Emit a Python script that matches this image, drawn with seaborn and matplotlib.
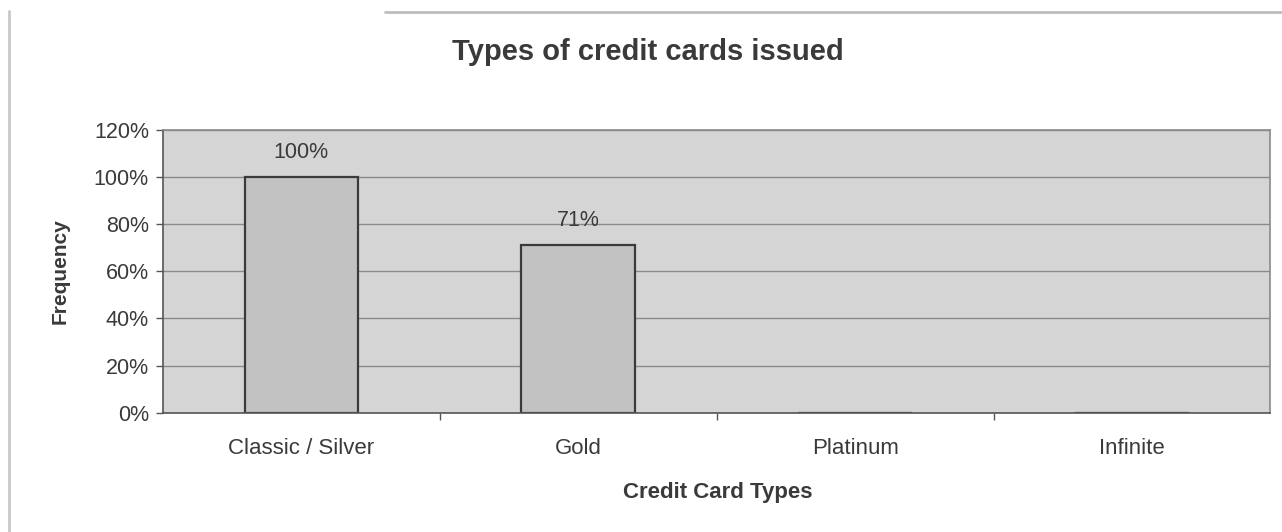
import matplotlib
matplotlib.use("Agg")
import matplotlib.pyplot as plt
from matplotlib.lines import Line2D
from matplotlib.ticker import FuncFormatter, FixedLocator
import seaborn as sns
import pandas as pd

categories = ["Classic / Silver", "Gold", "Platinum", "Infinite"]
values = [100, 71, 0, 0]
labels = ["100%", "71%", "", ""]
yticks = [0, 20, 40, 60, 80, 100, 120]

sns.set_theme(style="white")
plt.rcParams['font.family'] = ['Liberation Sans', 'DejaVu Sans']

df = pd.DataFrame({"type": categories, "freq": values})

fig = plt.figure(figsize=(12.82, 5.32), dpi=100)
fig.patch.set_facecolor("white")
ax = fig.add_axes([0.127, 0.224, 0.864, 0.532])
ax.set_facecolor("#d5d5d5")

sns.barplot(data=df, x="type", y="freq", order=categories, ax=ax,
            color="#c2c2c2", edgecolor="#3a3a3a", linewidth=1.6,
            width=0.41, saturation=1)

ax.set_ylim(0, 120)
ax.set_xlim(-0.5, len(categories) - 0.5)
ax.yaxis.set_major_locator(FixedLocator(yticks))
ax.yaxis.set_major_formatter(FuncFormatter(lambda v, p: f"{int(v)}%"))
ax.grid(axis="y", color="#8a8a8a", linewidth=1.0)
ax.set_axisbelow(True)

for i, (v, lab) in enumerate(zip(values, labels)):
    if lab:
        ax.annotate(lab, (i, v), xytext=(0, 10), textcoords="offset points",
                    ha="center", va="bottom", fontsize=15.5, color="#3a3a3a")

for side in ["top", "right", "left", "bottom"]:
    ax.spines[side].set_visible(True)
    ax.spines[side].set_color("#8a8a8a")
    ax.spines[side].set_linewidth(1.2)
ax.spines["bottom"].set_color("#555555")
ax.spines["left"].set_color("#555555")

ax.tick_params(axis="y", which="major", direction="out", length=5, width=1,
               color="#555555", labelsize=15.5, labelcolor="#3a3a3a", left=True, pad=5)
ax.tick_params(axis="x", which="major", length=0, labelsize=16,
               labelcolor="#3a3a3a", pad=18)
ax.set_xticks(range(len(categories)))
ax.set_xticklabels(categories)
ax.set_xticks([i + 0.5 for i in range(len(categories) - 1)], minor=True)
ax.tick_params(axis="x", which="minor", direction="out", length=5, width=1,
               color="#555555", bottom=True)

ax.set_xlabel("Credit Card Types", fontsize=16, fontweight="bold",
              color="#3a3a3a", va="center")
ax.xaxis.set_label_coords(0.501, -0.283)
ax.set_ylabel("Frequency", fontsize=15, fontweight="bold",
              color="#3a3a3a", va="center")
ax.yaxis.set_label_coords(-0.093, 0.5)
fig.text(0.505, 0.902, "Types of credit cards issued", ha="center", va="center",
         fontsize=21, fontweight="bold", color="#3a3a3a")

fig.add_artist(Line2D([0.007, 0.007], [0.0, 0.98], transform=fig.transFigure,
                      color="#c8c8c8", linewidth=2))
fig.add_artist(Line2D([0.3, 1.0], [0.978, 0.978], transform=fig.transFigure,
                      color="#bdbdbd", linewidth=2))

fig.savefig("out.png", dpi=100, facecolor="white")
